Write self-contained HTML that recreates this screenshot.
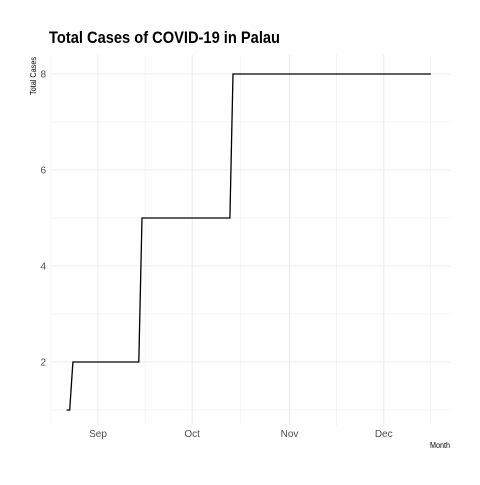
<!DOCTYPE html>
<html><head><meta charset="utf-8"><style>
body{margin:0;background:#fff}
svg{font-family:"Liberation Sans",sans-serif}
</style></head><body>
<svg width="480" height="480" xmlns="http://www.w3.org/2000/svg">
<rect width="480" height="480" fill="#fff"/>
<text x="49" y="43" font-size="17" font-weight="bold" fill="#000" textLength="231" lengthAdjust="spacingAndGlyphs">Total Cases of COVID-19 in Palau</text>
<g id="grid"></g>
<g id="axes"></g>
<path id="line" fill="none" stroke="#000" stroke-width="1.3"/>
<text x="36" y="57" font-size="8" fill="#000" transform="rotate(-90 36 57)" text-anchor="end" textLength="38" lengthAdjust="spacingAndGlyphs">Total Cases</text>
<text x="430" y="448" font-size="8" fill="#000" textLength="20" lengthAdjust="spacingAndGlyphs">Month</text>
</svg>
<script>
const dates=["2020-08-22","2020-08-23","2020-08-24","2020-09-14","2020-09-15","2020-10-13","2020-10-14","2020-12-16"];
const values=[1,1,2,2,5,5,8,8];
const yTicks=[2,4,6,8];
const xTickDates=["2020-09-01","2020-10-01","2020-11-01","2020-12-01"];
const xTickLabels=["Sep","Oct","Nov","Dec"];

const NS="http://www.w3.org/2000/svg";
const ref=Date.UTC(2020,8,1);
function day(s){const p=s.split("-");return (Date.UTC(+p[0],p[1]-1,+p[2])-ref)/86400000;}
function x(s){return 98+day(s)*3.14;}
function y(v){return 410-(v-1)*48;}
const grid=document.getElementById("grid"),axes=document.getElementById("axes");
function ln(x1,y1,x2,y2,w,name){const l=document.createElementNS(NS,"line");
l.setAttribute("x1",x1);l.setAttribute("y1",y1);l.setAttribute("x2",x2);l.setAttribute("y2",y2);
l.setAttribute("stroke","#ebebeb");l.setAttribute("stroke-width",w);


grid.appendChild(l);}
[1,3,5,7].forEach(v=>ln(52,y(v),450,y(v),0.6,'y-minor-gridline'));
yTicks.forEach(v=>{ln(52,y(v),450,y(v),1,'y-major-gridline');
const t=document.createElementNS(NS,"text");t.setAttribute("x",46);t.setAttribute("y",y(v)+3.5);
t.setAttribute("font-size","10");t.setAttribute("fill","#4d4d4d");t.setAttribute("text-anchor","end");t.textContent=v;


axes.appendChild(t);});
const xs=xTickDates.map(x);
const minors=[xs[0]-(xs[1]-xs[0])/2];
for(let i=0;i<xs.length-1;i++)minors.push((xs[i]+xs[i+1])/2);
minors.push(xs[xs.length-1]+(xs[xs.length-1]-xs[xs.length-2])/2);
minors.forEach(m=>ln(m,55,m,425,0.6,'x-minor-gridline'));
xs.forEach((px,i)=>{ln(px,55,px,425,1,'x-major-gridline');
const t=document.createElementNS(NS,"text");t.setAttribute("x",px);t.setAttribute("y",437);
t.setAttribute("font-size","10");t.setAttribute("fill","#4d4d4d");t.setAttribute("text-anchor","middle");t.textContent=xTickLabels[i];


axes.appendChild(t);});
document.getElementById("line").setAttribute("d",dates.map((d,i)=>(i?"L":"M")+x(d).toFixed(1)+","+y(values[i]).toFixed(1)).join(""));
</script>
</body></html>
